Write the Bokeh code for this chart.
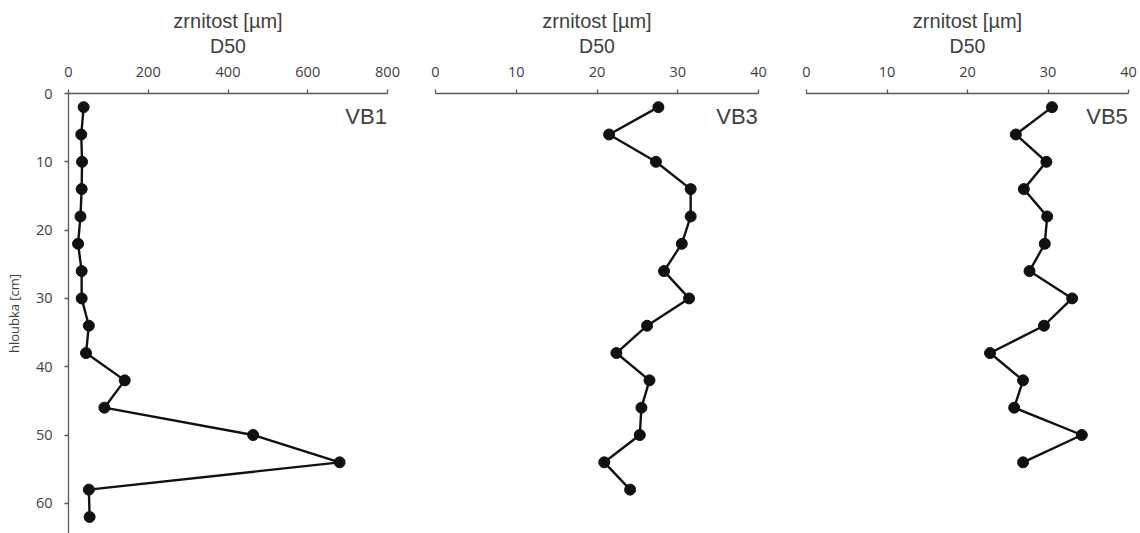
from bokeh.plotting import figure
from bokeh.layouts import row
from bokeh.models import Range1d, FixedTicker, Label, Title
from bokeh.embed import file_html
from bokeh.resources import INLINE

# ---- data ----
depth_vb1 = [2, 6, 10, 14, 18, 22, 26, 30, 34, 38, 42, 46, 50, 54, 58, 62]
d50_vb1 = [38, 32, 34, 33, 30, 24, 33, 33, 51, 44, 141, 90, 463, 680, 51, 53]

depth_vb3 = [2, 6, 10, 14, 18, 22, 26, 30, 34, 38, 42, 46, 50, 54, 58]
d50_vb3 = [27.6, 21.5, 27.3, 31.6, 31.6, 30.5, 28.3, 31.4, 26.2, 22.4, 26.5, 25.5, 25.3, 20.9, 24.1]

depth_vb5 = [2, 6, 10, 14, 18, 22, 26, 30, 34, 38, 42, 46, 50, 54]
d50_vb5 = [30.5, 26.0, 29.8, 27.0, 29.9, 29.6, 27.7, 33.0, 29.5, 22.8, 26.9, 25.8, 34.2, 26.9]

site_names = ["VB1", "VB3", "VB5"]
x_title = "zrnitost [µm]"
x_subtitle = "D50"
y_title = "hloubka [cm]"
x_ticks_vb1 = [0, 200, 400, 600, 800]
x_ticks_small = [0, 10, 20, 30, 40]
y_ticks = [0, 10, 20, 30, 40, 50, 60]

AXIS_COL = "#595959"
TEXT_COL = "#404040"
TOP = 93
HEIGHT = 533
Y_END = (HEIGHT - TOP) / 6.83


def panel(xs, ys, name, xmax, xticks, width, bl, br, show_y):
    p = figure(width=width, height=HEIGHT, output_backend="svg", toolbar_location=None,
               x_axis_location="above", y_axis_location="left" if show_y else None,
               x_range=Range1d(0, xmax), y_range=Range1d(Y_END, 0),
               min_border_left=bl, min_border_right=br, min_border_top=TOP,
               min_border_bottom=0)
    p.outline_line_color = None
    p.xgrid.visible = False
    p.ygrid.visible = False
    p.background_fill_color = "white"
    p.border_fill_color = "white"

    p.title = Title(text=x_title, align="center", text_font_size="20px",
                    text_font_style="normal", text_color=TEXT_COL,
                    text_font="Liberation Sans", standoff=0)

    ax = p.xaxis[0]
    ax.ticker = FixedTicker(ticks=xticks)
    ax.minor_tick_line_color = None
    ax.major_tick_in = 0
    ax.major_tick_out = 4
    ax.axis_line_color = AXIS_COL
    ax.axis_line_width = 1.3
    ax.major_tick_line_color = AXIS_COL
    ax.major_tick_line_width = 1.3
    ax.major_label_text_font = "Open Sans"
    ax.major_label_text_font_size = "14.5px"
    ax.major_label_text_color = TEXT_COL
    ax.major_label_standoff = 13
    ax.axis_label = x_subtitle
    ax.axis_label_text_font = "Liberation Sans"
    ax.axis_label_text_font_size = "19.5px"
    ax.axis_label_text_font_style = "normal"
    ax.axis_label_text_color = TEXT_COL
    ax.axis_label_standoff = 7

    if show_y:
        ay = p.yaxis[0]
        ay.ticker = FixedTicker(ticks=y_ticks)
        ay.minor_tick_line_color = None
        ay.major_tick_in = 0
        ay.major_tick_out = 4
        ay.axis_line_color = AXIS_COL
        ay.axis_line_width = 1.3
        ay.major_tick_line_color = AXIS_COL
        ay.major_tick_line_width = 1.3
        ay.major_label_text_font = "Open Sans"
        ay.major_label_text_font_size = "14.5px"
        ay.major_label_text_color = TEXT_COL
        ay.major_label_standoff = 12
        ay.axis_label = y_title
        ay.axis_label_text_font = "Open Sans"
        ay.axis_label_text_font_size = "13px"
        ay.axis_label_text_font_style = "normal"
        ay.axis_label_text_color = TEXT_COL
        ay.axis_label_standoff = 10

    p.line(xs, ys, line_color="#111111", line_width=2.4)
    p.scatter(xs, ys, size=11, fill_color="#111111", line_color="#111111")

    p.add_layout(Label(x=xmax * 0.998, y=3.4, text=name, text_align="right",
                       text_baseline="middle", text_font="Liberation Sans",
                       text_font_size="22px", text_color=TEXT_COL))
    return p


p1 = panel(d50_vb1, depth_vb1, site_names[0], 800, x_ticks_vb1, 411, 68, 24, True)
p2 = panel(d50_vb3, depth_vb3, site_names[1], 40, x_ticks_small, 371, 24, 24, False)
p3 = panel(d50_vb5, depth_vb5, site_names[2], 40, x_ticks_small, 358, 24, 12, False)

layout = row(p1, p2, p3, spacing=0)
open("out.html", "w").write(file_html(layout, INLINE))
